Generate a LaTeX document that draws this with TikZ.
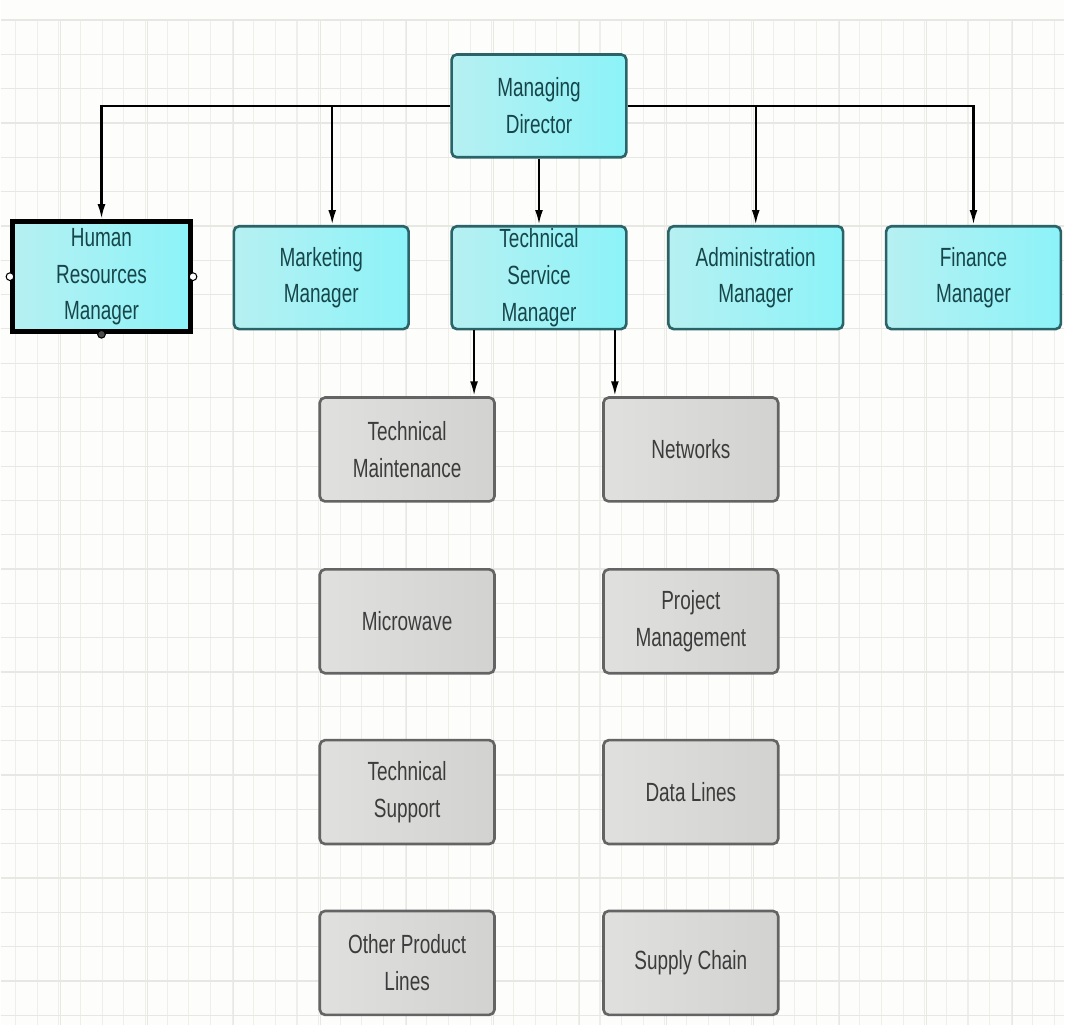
\documentclass[tikz,border=0pt]{standalone}
\usepackage{fontspec}
\setmainfont{Liberation Sans}[FakeStretch=0.72]
\usetikzlibrary{arrows.meta}
\usepackage{xcolor}
\definecolor{paper}{RGB}{253,253,251}
\definecolor{gridminor}{RGB}{238,239,235}
\definecolor{gridmajor}{RGB}{231,232,228}
\definecolor{tealline}{RGB}{42,100,104}
\definecolor{tealtext}{RGB}{22,70,74}
\definecolor{cyanlight}{RGB}{182,240,242}
\definecolor{cyandark}{RGB}{140,243,248}
\definecolor{grayline}{RGB}{100,100,100}
\definecolor{graytext}{RGB}{60,60,60}
\definecolor{graylight}{RGB}{224,224,222}
\definecolor{graydark}{RGB}{210,210,208}
\tikzstyle{arrow} = [line width=1.4pt,-{Latex[length=8.5pt,width=4.5pt]}]
\tikzstyle{boxfont} = [font=\fontsize{15}{21}\selectfont, align=center]
\tikzstyle{mgr} = [boxfont, draw=tealline, line width=1.5pt, rounded corners=3pt, left color=cyanlight, right color=cyandark, text=tealtext, minimum width=3.5cm, minimum height=2.06cm, inner sep=0pt]
\tikzstyle{unit} = [boxfont, draw=grayline, line width=1.5pt, rounded corners=3pt, left color=graylight, right color=graydark, text=graytext, minimum width=3.5cm, minimum height=2.08cm, inner sep=0pt]
\tikzstyle{boxtext} = [boxfont, text=tealtext, inner sep=0pt]

\begin{document}
\begin{tikzpicture}[x=0.02cm, y=-0.02cm]
	% paper and grid
	\fill[paper] (0,0) rectangle (1065,1026);
	\foreach \x in {15,36.67,...,1065}
		\draw[gridminor, line width=0.6pt] (\x,20) -- (\x,1026);
	\foreach \x in {60,146.67,...,1065}
		\draw[gridmajor, line width=0.6pt] (\x,20) -- (\x,1026);
	\foreach \y in {20,54.36,...,1026}
		\draw[gridmajor, line width=0.7pt] (0,\y) -- (1065,\y);

	% managers
	\node[mgr] (md) at (539,106) {Managing\\Director};
	\node[mgr, draw=black, line width=3pt, rounded corners=0pt, minimum width=3.56cm, minimum height=2.2cm] (hr) at (101,277) {};
	\node[boxtext] (hrtxt) at (hr) {Human\\Resources\\Manager};
	\node[mgr] (mkt) at (321,278) {Marketing\\Manager};
	\node[mgr] (tsm) at (539,278) {};
	\node[boxtext] (tsmtxt) at (tsm) {Technical\\Service\\Manager};
	\node[mgr] (adm) at (756,278) {Administration\\Manager};
	\node[mgr] (fin) at (974,278) {Finance\\Manager};

	% selection handles
	\draw[fill=white, line width=0.6pt] (hr.west) circle (2.2pt);
	\draw[fill=white, line width=0.6pt] (hr.east) circle (2.2pt);
	\draw[fill=black!70, line width=0.6pt] (hr.south) circle (2.2pt);

	% technical service units
	\node[unit] (tm) at (407,450) {Technical\\Maintenance};
	\node[unit] (mw) at (407,622) {Microwave};
	\node[unit] (ts) at (407,793) {Technical\\Support};
	\node[unit] (opl) at (407,964) {Other Product\\Lines};
	\node[unit] (net) at (691,450) {Networks};
	\node[unit] (pm) at (691,622) {Project\\Management};
	\node[unit] (dl) at (691,793) {Data Lines};
	\node[unit] (sc) at (691,964) {Supply Chain};

	% connectors
	\draw[arrow] (md.west) -| (hr.north);
	\draw[arrow] (md.west) -| ([xshift=0.22cm]mkt.north);
	\draw[arrow] (md.south) -- (tsm.north);
	\draw[arrow] (md.east) -| (adm.north);
	\draw[arrow] (md.east) -| (fin.north);

	\coordinate (tmtap) at ([xshift=-1.3cm]tsm.south);
	\coordinate (nettap) at ([xshift=1.52cm]tsm.south);
	\draw[arrow] (tmtap) -- (tmtap |- tm.north);
	\draw[arrow] (nettap) -- (nettap |- net.north);
\end{tikzpicture}
\end{document}
